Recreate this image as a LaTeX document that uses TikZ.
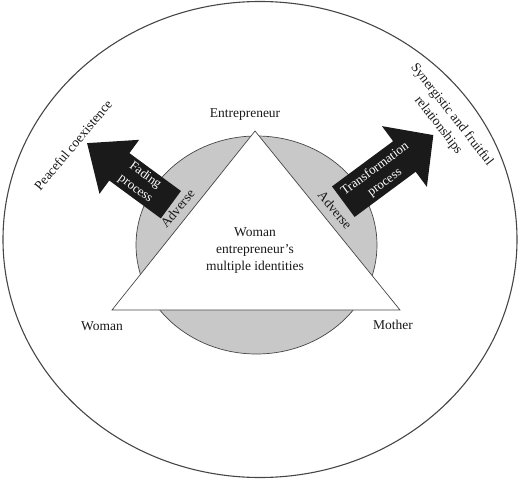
\documentclass[tikz,border=0pt]{standalone}
\usepackage{fontspec}
\setmainfont{Liberation Serif}
\definecolor{shadegray}{RGB}{200,200,200}
\definecolor{arrowblack}{RGB}{26,26,26}
\definecolor{linegray}{RGB}{70,70,70}
\begin{document}
\begin{tikzpicture}[x=1pt,y=-1pt,
  lbl/.style={font=\fontsize{13.5}{17}\selectfont, align=center, inner sep=0pt, text=black!90},
  albl/.style={font=\fontsize{13}{16.5}\selectfont, align=center, inner sep=0pt, text=white},
  arrowshape/.style={fill=arrowblack}]
\useasboundingbox (0,0) rectangle (520,482);
% outer ellipse
\draw[linegray, line width=1.1pt] (260,239.5) ellipse [x radius=257pt, y radius=238pt];
% gray ellipse
\draw[linegray, line width=0.7pt, fill=shadegray] (256.5,245) ellipse [x radius=120.5pt, y radius=109pt];
% triangle
\coordinate (apex) at (255,131);
\coordinate (bl) at (112,310);
\coordinate (br) at (400,310);
\draw[linegray, line width=0.7pt, fill=white] (apex) -- (br) -- (bl) -- cycle;
% left arrow
\begin{scope}[shift={(170.9,204.7)}, rotate=143.7]
\fill[arrowshape] (0,-17) -- (64,-17) -- (64,-33.5) -- (104,0) -- (64,33.5) -- (64,17) -- (0,17) -- cycle;
\end{scope}
% right arrow
\begin{scope}[shift={(343.3,201.7)}, rotate=36.5]
\fill[arrowshape] (0,-19) -- (76,-19) -- (76,-37.8) -- (112,0) -- (76,37.8) -- (76,19) -- (0,19) -- cycle;
\end{scope}
% labels
\node[lbl] (ent) at (245,115) {Entrepreneur};
\node[lbl] (woman) at (102,326) {Woman};
\node[lbl] (mother) at (393,325) {Mother};
\node[lbl] (centre) at (255,251) {Woman\\entrepreneur’s\\multiple identities};
\node[lbl, rotate=50] (advl) at (177.5,208.5) {Adverse};
\node[lbl, rotate=-50] (advr) at (335,210) {Adverse};
\node[lbl, rotate=50] (peace) at (73,145) {Peaceful coexistence};
\node[lbl, rotate=-52] (syn) at (445,120) {Synergistic and fruitful\\relationships};
\node[albl, rotate=-36.3] (fad) at (140.3,182.2) {Fading\\process};
\node[albl, rotate=36.5] (tra) at (380,176) {Transformation\\process};
\end{tikzpicture}
\end{document}
